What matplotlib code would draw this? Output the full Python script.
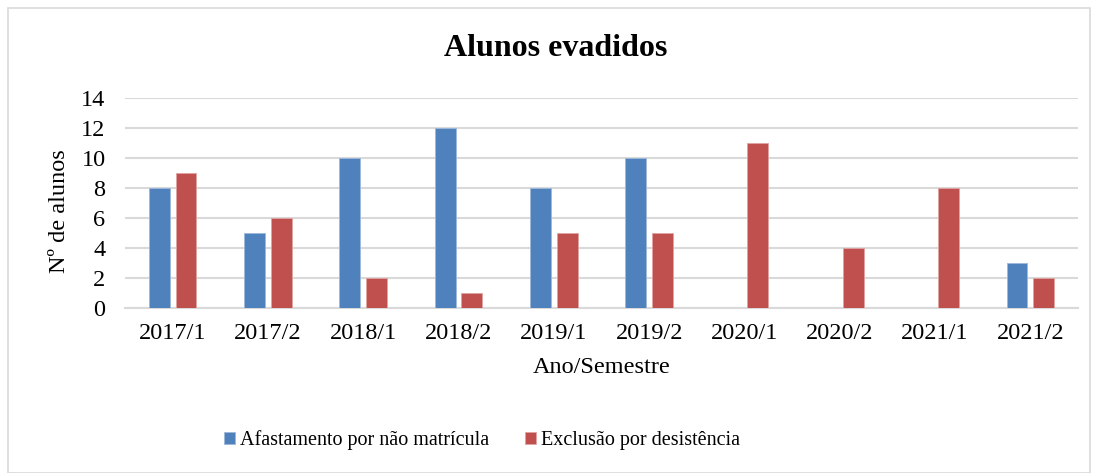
import numpy as np
import matplotlib
matplotlib.use("Agg")
import matplotlib.pyplot as plt
from matplotlib.patches import Rectangle

# Dados do gráfico
semestres = ["2017/1", "2017/2", "2018/1", "2018/2", "2019/1",
             "2019/2", "2020/1", "2020/2", "2021/1", "2021/2"]
afastamento = [8, 5, 10, 12, 8, 10, 0, 0, 0, 3]
exclusao = [9, 6, 2, 1, 5, 5, 11, 4, 8, 2]

cor_azul = "#4F81BD"
cor_vermelha = "#C0504D"

plt.rcParams["font.family"] = ["Liberation Serif", "DejaVu Serif"]

W, H = 1097, 473
fig = plt.figure(figsize=(W / 100, H / 100), dpi=100)
ax = fig.add_axes([125 / W, 1 - 308 / H, (1078 - 125) / W, (308 - 98) / H])

# Moldura cinza em volta do gráfico
fig.patches.append(Rectangle((8 / W, 0 / H), (1090 - 8) / W, (465) / H,
                             transform=fig.transFigure, fill=False,
                             edgecolor="#D9D9D9", linewidth=1.2))

x = np.arange(len(semestres))
larg = 0.22
ax.bar(x - 0.14, afastamento, larg, color=cor_azul, edgecolor="#9DB8DA",
       linewidth=0.6, label="Afastamento por não matrícula", zorder=3)
ax.bar(x + 0.14, exclusao, larg, color=cor_vermelha, edgecolor="#E0A3A1",
       linewidth=0.6, label="Exclusão por desistência", zorder=3)

ax.set_xlim(-0.5, len(semestres) - 0.5)
ax.set_ylim(0, 14)
ax.set_yticks(range(0, 15, 2))
ax.set_xticks(x)
ax.set_xticklabels(semestres)
ax.tick_params(axis="both", length=0, labelsize=17.5)
ax.tick_params(axis="y", pad=14)
ax.tick_params(axis="x", pad=11)
ax.grid(axis="y", color="#D9D9D9", linewidth=1.5, zorder=0)
for s in ["top", "right", "left"]:
    ax.spines[s].set_visible(False)
ax.spines["bottom"].set_color("#D9D9D9")
ax.spines["bottom"].set_linewidth(1.5)

ax.set_xlabel("Ano/Semestre", fontsize=17.5, labelpad=9)
ax.set_ylabel("Nº de alunos", fontsize=17.5)
ax.yaxis.set_label_coords(-55 / 953, 0.46)
fig.text(0.507, 1 - 48 / H, "Alunos evadidos", ha="center", va="center",
         fontsize=23, fontweight="bold")

fig.legend(loc="center", bbox_to_anchor=(482 / W, 1 - 440 / H), ncol=2,
           frameon=False, fontsize=14.5, handlelength=0.55, handleheight=0.55,
           handletextpad=0.25, columnspacing=1.8)

fig.savefig("out.png", dpi=100)
